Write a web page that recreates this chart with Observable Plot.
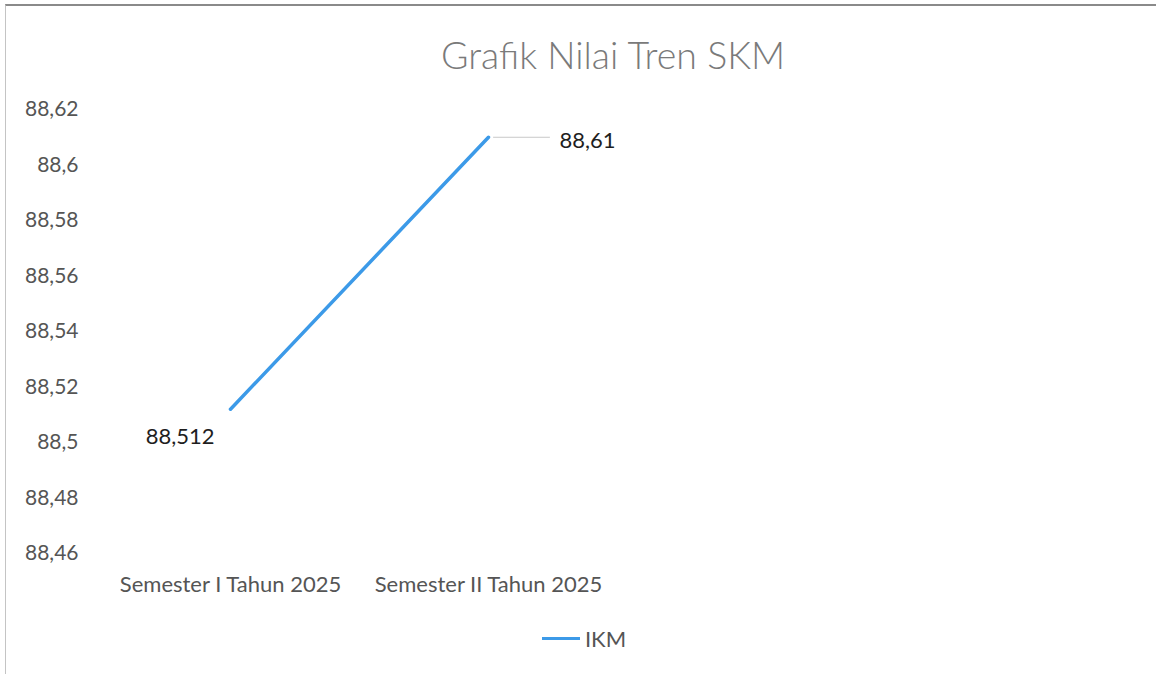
<!DOCTYPE html>
<html><head><meta charset="utf-8">
<script src="https://cdn.jsdelivr.net/npm/d3@7"></script>
<script src="https://cdn.jsdelivr.net/npm/@observablehq/plot@0.6"></script>
<style>
  html, body { margin: 0; padding: 0; background: #fff; }
  #wrap { position: relative; width: 1156px; height: 674px; overflow: hidden; font-family: Lato, "Open Sans", sans-serif; }
  #frame { position: absolute; left: 5px; top: 4px; right: 0; bottom: 0; border-top: 2px solid #8a8a8a; border-left: 1px solid #c4c4c4; pointer-events: none; }
  #title { height: 90px; box-sizing: border-box; padding-top: 31px; padding-left: 70px; text-align: center; font-size: 37.5px; font-weight: 300; color: #7a7a7a; line-height: 48px; }
  #legend { display: flex; justify-content: center; align-items: center; margin-left: 12px; margin-top: 8px; gap: 5px; font-size: 22px; color: #555; height: 40px; }
  #legend .sw { width: 38px; height: 3px; background: #3c9ae8; }
</style></head>
<body>
<div id="wrap">
  <div id="frame"></div>
  <div id="title">Grafik Nilai Tren SKM</div>
  <div id="chart"></div>
  <div id="legend"><span class="sw"></span><span>IKM</span></div>
</div>
<script>
const categories = ["Semester I Tahun 2025", "Semester II Tahun 2025"];
const ikm = [88.512, 88.61];
const yTicks = [88.46, 88.48, 88.50, 88.52, 88.54, 88.56, 88.58, 88.60, 88.62];
const seriesName = "IKM";

const data = categories.map((c, i) => ({cat: c, value: ikm[i]}));
const fmt = d => String(+d.toFixed(3)).replace(".", ",");

const chart = Plot.plot({
  width: 1156,
  height: 520,
  marginLeft: 101,
  marginRight: 539,
  marginTop: 19,
  marginBottom: 57,
  style: {fontFamily: "Lato, 'Open Sans', sans-serif", fontSize: "20px", color: "#555", background: "transparent", overflow: "visible"},
  x: {type: "band", domain: categories, padding: 0, label: null},
  y: {domain: [88.46, 88.62], label: null},
  marks: [
    Plot.axisY({ticks: yTicks, tickFormat: fmt, tickSize: 0, tickPadding: 23, fontSize: 21, fill: "#555"}),
    Plot.axisX({tickSize: 0, tickPadding: 23, fontSize: 22, fill: "#555"}),
    Plot.lineY(data, {x: "cat", y: "value", stroke: "#3c9ae8", strokeWidth: 3.5}),
    Plot.vector(data.slice(1), {x: "cat", y: "value", rotate: 90, length: 56, anchor: "start", dx: 5, stroke: "#c8c8c8", strokeWidth: 1,
      shape: {draw(ctx, l) { ctx.moveTo(0, 0); ctx.lineTo(0, -l); }}}),
    Plot.text(data.slice(0, 1), {x: "cat", y: "value", text: d => fmt(d.value), textAnchor: "end", dx: -16, dy: 28, fontSize: 22, fill: "#1e1e1e"}),
    Plot.text(data.slice(1), {x: "cat", y: "value", text: d => fmt(d.value), textAnchor: "start", dx: 71, dy: 4, fontSize: 22, fill: "#1e1e1e"})
  ]
});
document.getElementById("chart").appendChild(chart);
</script>
</body></html>
